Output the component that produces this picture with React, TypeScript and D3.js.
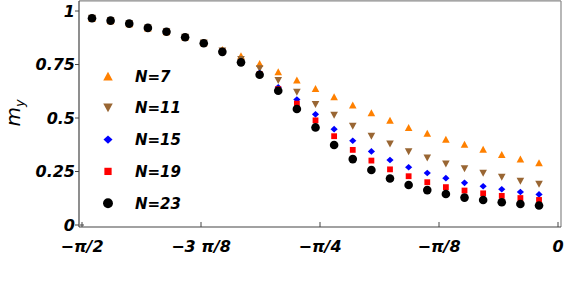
import React from "react";
import * as d3 from "d3";

// theta values (radians) of the sample points
const thetas = [
  -1.5378, -1.4764, -1.4149, -1.3534, -1.292, -1.2305, -1.169, -1.1076, -1.0461,
  -0.9846, -0.9232, -0.8617, -0.8002, -0.7388, -0.6773, -0.6158, -0.5544, -0.4929,
  -0.4314, -0.37, -0.3085, -0.247, -0.1856, -0.1241, -0.0626,
];

const n7 = [0.966, 0.955, 0.941, 0.921, 0.903, 0.878, 0.852, 0.82, 0.791, 0.755, 0.716, 0.678, 0.638, 0.599, 0.561, 0.525, 0.49, 0.456, 0.429, 0.401, 0.377, 0.354, 0.33, 0.308, 0.291];
const n11 = [0.966, 0.955, 0.941, 0.921, 0.903, 0.877, 0.85, 0.813, 0.773, 0.73, 0.675, 0.62, 0.563, 0.513, 0.462, 0.415, 0.378, 0.342, 0.313, 0.285, 0.263, 0.242, 0.223, 0.205, 0.191];
const n15 = [0.966, 0.955, 0.941, 0.921, 0.903, 0.877, 0.849, 0.81, 0.764, 0.71, 0.644, 0.586, 0.517, 0.448, 0.394, 0.344, 0.304, 0.27, 0.243, 0.219, 0.197, 0.181, 0.167, 0.154, 0.143];
const n19 = [0.966, 0.955, 0.941, 0.921, 0.903, 0.877, 0.849, 0.81, 0.762, 0.706, 0.635, 0.567, 0.489, 0.415, 0.351, 0.301, 0.26, 0.228, 0.2, 0.177, 0.161, 0.148, 0.136, 0.126, 0.117];
const n23 = [0.966, 0.955, 0.941, 0.921, 0.903, 0.877, 0.849, 0.809, 0.76, 0.702, 0.627, 0.542, 0.456, 0.374, 0.308, 0.257, 0.217, 0.187, 0.163, 0.145, 0.128, 0.117, 0.106, 0.098, 0.091];

const seriesNames = ["N=7", "N=11", "N=15", "N=19", "N=23"];
const seriesValues = [n7, n11, n15, n19, n23];

const xTickValues = [-Math.PI / 2, (-3 * Math.PI) / 8, -Math.PI / 4, -Math.PI / 8, 0];
const xTickLabels = ["\u2212\u03c0/2", "\u22123 \u03c0/8", "\u2212\u03c0/4", "\u2212\u03c0/8", "0"];
const yTickValues = [0, 0.25, 0.5, 0.75, 1];
const yTickLabels = ["0", "0.25", "0.5", "0.75", "1"];

const colors = ["#ff8000", "#996633", "#0000ff", "#ff0000", "#000000"];
const shapes = ["up", "down", "diamond", "square", "circle"];

const font = "'DejaVu Sans', sans-serif";

function marker(shape: string, color: string, cx: number, cy: number, s: number, key?: any) {
  if (shape === "circle") return <circle key={key} cx={cx} cy={cy} r={4.3 * s} fill={color} />;
  if (shape === "square") {
    const a = 5.8 * s;
    return <rect key={key} x={cx - a / 2} y={cy - a / 2} width={a} height={a} fill={color} />;
  }
  let w = 7.6 * s, h = 7 * s;
  let d = "";
  if (shape === "up") d = `M0,${-h / 2}L${w / 2},${h / 2}L${-w / 2},${h / 2}Z`;
  if (shape === "down") d = `M0,${h / 2}L${w / 2},${-h / 2}L${-w / 2},${-h / 2}Z`;
  if (shape === "diamond") {
    w = 7.2 * s; h = 6.6 * s;
    d = `M0,${-h / 2}L${w / 2},0L0,${h / 2}L${-w / 2},0Z`;
  }
  return <path key={key} d={d} transform={`translate(${cx},${cy})`} fill={color} />;
}

export default function App() {
  const width = 565, height = 293;
  const x = d3.scaleLinear().domain([-Math.PI / 2, 0]).range([82, 558]);
  const y = d3.scaleLinear().domain([0, 1]).range([225, 11]);

  const padX = 0.0099;
  const left = x(-Math.PI / 2 - padX), right = x(padX);
  const top = y(1.047), bottom = y(-0.0093);

  return (
    <svg width={width} height={height} style={{ position: "absolute", left: 0, top: 0, background: "#fff" }}>
      {/* frame */}
      <line x1={left} x2={right} y1={top} y2={top} stroke="#888" strokeWidth={1.2} />
      <line x1={right} x2={right} y1={top} y2={bottom} stroke="#888" strokeWidth={1.2} />
      <line x1={left} x2={left} y1={top} y2={bottom} stroke="#444" strokeWidth={1.2} />
      <line x1={left} x2={right} y1={bottom} y2={bottom} stroke="#444" strokeWidth={1.2} />

      {/* y ticks */}
      {yTickValues.map((v, i) => (
        <g key={"yt" + i}>
          <line x1={left - 4} x2={left} y1={y(v)} y2={y(v)} stroke="#444" />
          <text x={left - 4} y={y(v) + 5.8} textAnchor="end" fontFamily={font} fontSize={16}
            fontWeight="bold" fontStyle="italic" fill="#000">{yTickLabels[i]}</text>
        </g>
      ))}
      <line x1={left + 1} x2={left + 5} y1={y(0)} y2={y(0)} stroke="#444" />

      {/* x ticks */}
      {xTickValues.map((v, i) => (
        <g key={"xt" + i}>
          <line x1={x(v)} x2={x(v)} y1={bottom} y2={bottom - 5} stroke="#444" />
          <text x={x(v)} y={252} textAnchor="middle" fontFamily={font} fontSize={16}
            fontWeight="bold" fontStyle="italic" fill="#000">{xTickLabels[i]}</text>
        </g>
      ))}

      {/* y label */}
      <text transform="translate(20,113) rotate(-90)" textAnchor="middle" fontFamily={font}
        fontStyle="italic" fill="#000">
        <tspan fontSize={20}>m</tspan>
        <tspan fontSize={13} dy={4}>y</tspan>
      </text>

      {/* data */}
      {seriesValues.map((vals, si) => (
        <g key={"s" + si}>
          {vals.map((v, k) => marker(shapes[si], colors[si], x(thetas[k]), y(v), 1, k))}
        </g>
      ))}

      {/* legend */}
      {seriesNames.map((name, i) => {
        const ly = 76 + i * 31.8;
        return (
          <g key={"lg" + i}>
            {marker(shapes[i], colors[i], 108, ly, i === 4 ? 1.15 : 1.25)}
            <text x={135} y={ly + 5.5} fontFamily={font} fontSize={15} fontWeight="bold"
              fontStyle="italic" fill="#000">{name}</text>
          </g>
        );
      })}
    </svg>
  );
}
